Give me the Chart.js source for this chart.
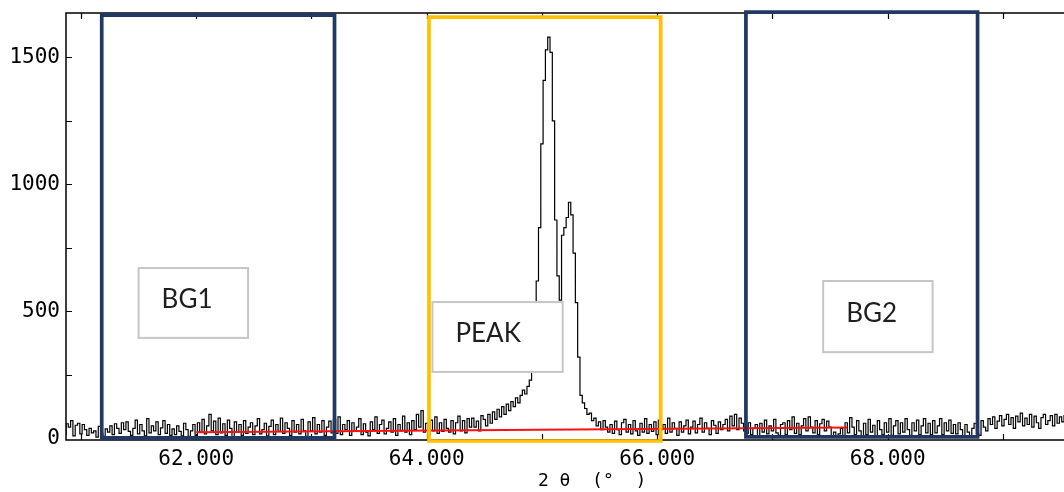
<!DOCTYPE html>
<html>
<head>
<meta charset="utf-8">
<script src="https://cdn.jsdelivr.net/npm/chart.js@4.4.1/dist/chart.umd.min.js"></script>
<style>
  html, body { margin: 0; padding: 0; background: #fff; overflow: hidden; }
  #wrap { width: 1064px; height: 492px; position: relative; }
  canvas { display: block; }
</style>
</head>
<body>
<div id="wrap"><canvas id="xrdChart"></canvas></div>
<script>
// scan: 2theta of the first point and step width (deg)
const scanStart = 60.80;
const scanStep = 0.02;

// measured counts, 10 points per row (0.2 deg per row)
const counts = [
  55, 30, 62, 15, 58, 45, 70, 10, 52, 60,      // 60.80
  18, 55, 35, 12, 40, 22, 30, 5, 48, 20,       // 61.00
  8, 38, 25, 50, 15, 58, 40, 20, 62, 35,       // 61.20
  65, 28, 12, 40, 72, 18, 55, 30, 10, 78,      // 61.40
  22, 50, 30, 65, 15, 42, 70, 20, 55, 12,      // 61.60
  38, 15, 50, 28, 10, 60, 35, 8, 30, 55,       // 61.80
  10, 62, 25, 75, 18, 50, 95, 30, 68, 15,      // 62.00
  80, 22, 58, 12, 72, 40, 5, 65, 25, 55,       // 62.20
  12, 70, 20, 45, 62, 15, 50, 78, 18, 35,      // 62.40
  60, 10, 48, 72, 15, 55, 28, 80, 20, 62,      // 62.60
  40, 12, 70, 25, 55, 18, 75, 30, 8, 65,       // 62.80
  30, 82, 18, 55, 25, 70, 12, 45, 68, 22,      // 63.00
  75, 20, 85, 15, 55, 35, 70, 12, 62, 28,      // 63.20
  45, 78, 15, 58, 25, 10, 65, 35, 85, 20,      // 63.40
  55, 72, 18, 40, 65, 25, 78, 12, 55, 30,      // 63.60
  88, 25, 62, 15, 70, 35, 95, 45, 110, 25,     // 63.80
  60, 15, 72, 30, 85, 20, 62, 28, 75, 40,      // 64.00
  25, 70, 18, 62, 88, 30, 70, 22, 78, 45,      // 64.20
  80, 45, 68, 30, 90, 75, 50, 95, 60, 105,     // 64.40
  75, 115, 85, 125, 95, 135, 110, 145, 125, 160,      // 64.60
  140, 170, 190, 175, 205, 230, 265, 420, 620, 830,   // 64.80
  1160, 1410, 1530, 1580, 1520, 1250, 860, 640, 545, 800, // 65.00
  830, 870, 930, 880, 730, 535, 320, 170, 140, 118,   // 65.20
  95, 100, 70, 80, 50, 65, 35, 70, 45, 25,     // 65.40
  55, 20, 68, 35, 15, 62, 75, 25, 55, 18,      // 65.60
  70, 30, 12, 60, 25, 78, 20, 55, 28, 65,      // 65.80
  15, 72, 35, 55, 20, 80, 25, 62, 40, 12,      // 66.00
  65, 25, 50, 72, 18, 45, 68, 22, 55, 80,      // 66.20
  25, 62, 40, 15, 70, 52, 20, 65, 35, 55,      // 66.40
  75, 30, 88, 50, 95, 35, 80, 60, 30, 20,      // 66.60
  62, 15, 40, 55, 10, 60, 25, 72, 18, 50,      // 66.80
  30, 75, 22, 12, 55, 62, 15, 70, 35, 85,      // 67.00
  20, 60, 15, 50, 78, 30, 85, 45, 22, 70,      // 67.20
  15, 58, 75, 30, 68, 45, 8, 25, 5, 18,        // 67.40
  40, 10, 62, 22, 82, 45, 15, 70, 30, 10,      // 67.60
  60, 15, 75, 25, 52, 10, 70, 35, 15, 62,      // 67.80
  25, 78, 12, 50, 70, 18, 62, 25, 78, 35,      // 68.00
  12, 62, 30, 72, 15, 50, 78, 22, 60, 15,      // 68.20
  70, 22, 50, 78, 15, 62, 30, 72, 20, 55,      // 68.40
  18, 62, 35, 10, 55, 25, 8, 40, 60, 20,       // 68.60
  12, 70, 45, 30, 78, 55, 85, 40, 68, 90,      // 68.80
  50, 75, 95, 55, 82, 40, 88, 65, 100, 50,     // 69.00
  80, 55, 95, 45, 88, 62, 40, 82, 95, 55,      // 69.20
  70, 90, 50, 95, 60, 85, 65, 90, 55, 80       // 69.40
];

// straight background line (red)
const baselineAngles = [62.0, 67.65];
const baselineCounts = [25, 43];

// integration windows
const regionNames = ['BG1', 'PEAK', 'BG2'];
const regionFrom = [61.18, 64.02, 66.77];
const regionTo = [63.20, 66.03, 68.78];
const regionLow = [2, -10, 6];
const regionHigh = [1667, 1659, 1679];
const regionColors = ['#1f3864', '#ffc000', '#1f3864'];

// label boxes (data units)
const labelLeft = [61.50, 64.05, 67.44];
const labelRight = [62.45, 65.18, 68.39];
const labelBottom = [396, 262, 340];
const labelTop = [671, 537, 620];

const xMin = 60.87, xMax = 69.53;
const yMin = -6, yMax = 1675;
const xTickValues = [61, 62, 63, 64, 65, 66, 67, 68, 69];
const yTickValues = [0, 250, 500, 750, 1000, 1250, 1500];

const scanPoints = counts.map((c, i) => ({ x: +(scanStart + i * scanStep).toFixed(2), y: c }));
const baselinePoints = baselineAngles.map((a, i) => ({ x: a, y: baselineCounts[i] }));

function outline(i) {
  const a = regionFrom[i], b = regionTo[i], lo = regionLow[i], hi = regionHigh[i];
  return [{x: a, y: lo}, {x: a, y: hi}, {x: b, y: hi}, {x: b, y: lo}, {x: a, y: lo}, {x: a, y: hi}];
}

const regionSets = regionNames.map((name, i) => ({
  label: name,
  data: outline(i),
  borderColor: regionColors[i],
  borderWidth: 3.7,
  borderJoinStyle: 'miter',
  pointRadius: 0,
  fill: false,
  tension: 0,
  clip: false,
  order: 1
}));

// axis frame + inward tick marks
const frameTicks = {
  id: 'frameTicks',
  beforeDatasetsDraw(chart) {
    const { ctx, chartArea: a, scales: { x, y } } = chart;
    ctx.save();
    ctx.strokeStyle = '#000';
    ctx.lineWidth = 1.5;
    ctx.beginPath();
    ctx.moveTo(a.right, a.top);
    ctx.lineTo(a.left, a.top);
    ctx.lineTo(a.left, a.bottom);
    ctx.lineTo(a.right, a.bottom);
    ctx.stroke();
    ctx.lineWidth = 1.2;
    ctx.beginPath();
    x.ticks.forEach(t => {
      const px = Math.round(x.getPixelForValue(t.value)) + 0.5;
      ctx.moveTo(px, a.bottom); ctx.lineTo(px, a.bottom - 6);
      ctx.moveTo(px, a.top); ctx.lineTo(px, a.top + 6);
    });
    y.ticks.forEach(t => {
      if (t.value <= 0) return;
      const py = Math.round(y.getPixelForValue(t.value)) + 0.5;
      ctx.moveTo(a.left, py); ctx.lineTo(a.left + 6, py);
    });
    ctx.stroke();
    ctx.restore();
  }
};

// white text boxes on top of everything
const labelBoxes = {
  id: 'labelBoxes',
  afterDatasetsDraw(chart) {
    const { ctx, scales: { x, y } } = chart;
    ctx.save();
    regionNames.forEach((name, i) => {
      const l = x.getPixelForValue(labelLeft[i]);
      const r = x.getPixelForValue(labelRight[i]);
      const t = y.getPixelForValue(labelTop[i]);
      const b = y.getPixelForValue(labelBottom[i]);
      ctx.fillStyle = '#fff';
      ctx.fillRect(l, t, r - l, b - t);
      ctx.strokeStyle = '#c6c6c6';
      ctx.lineWidth = 2;
      ctx.strokeRect(l, t, r - l, b - t);
      ctx.fillStyle = '#1e1e1e';
      ctx.font = '26px Lato, "Open Sans", sans-serif';
      ctx.textAlign = 'left';
      ctx.textBaseline = 'middle';
      ctx.fillText(name, l + 23, (t + b) / 2 - 3);
    });
    ctx.restore();
  }
};

const tickFont = { family: '"DejaVu Sans Mono", monospace', size: 21 };

new Chart(document.getElementById('xrdChart'), {
  type: 'line',
  data: {
    datasets: [
      {
        label: 'counts',
        data: scanPoints,
        borderColor: '#000',
        borderWidth: 1.2,
        pointRadius: 0,
        stepped: 'middle',
        fill: false,
        order: 3
      },
      {
        label: 'background',
        data: baselinePoints,
        borderColor: '#ff1010',
        borderWidth: 2,
        pointRadius: 0,
        fill: false,
        order: 2
      },
      ...regionSets
    ]
  },
  options: {
    animation: false,
    responsive: true,
    maintainAspectRatio: false,
    devicePixelRatio: 1,
    layout: { padding: { top: 13, right: 0, left: 0, bottom: 0 } },
    plugins: { legend: { display: false }, tooltip: { enabled: false } },
    scales: {
      x: {
        type: 'linear',
        min: xMin,
        max: xMax,
        grid: { display: false, drawTicks: false },
        border: { display: false },
        afterBuildTicks: s => { s.ticks = xTickValues.map(v => ({ value: v })); },
        ticks: {
          autoSkip: false,
          maxRotation: 0,
          padding: 7,
          color: '#000',
          font: tickFont,
          callback: v => (v % 2 === 0) ? v.toFixed(3) : ''
        },
        title: {
          display: true,
          text: '     2 θ  (°  )',
          color: '#000',
          font: { family: '"DejaVu Sans Mono", monospace', size: 18, lineHeight: 1.2 },
          padding: 0
        },
        afterFit: s => { s.height = 52; s.paddingLeft = 0; s.paddingRight = 0; }
      },
      y: {
        min: yMin,
        max: yMax,
        grid: { display: false, drawTicks: false },
        border: { display: false },
        afterBuildTicks: s => { s.ticks = yTickValues.map(v => ({ value: v })); },
        ticks: {
          autoSkip: false,
          padding: 6,
          color: '#000',
          font: tickFont,
          callback: v => (v % 500 === 0) ? String(v) : ''
        },
        afterFit: s => { s.width = 66; s.paddingTop = 0; s.paddingBottom = 0; }
      }
    }
  },
  plugins: [frameTicks, labelBoxes]
});
</script>
</body>
</html>
